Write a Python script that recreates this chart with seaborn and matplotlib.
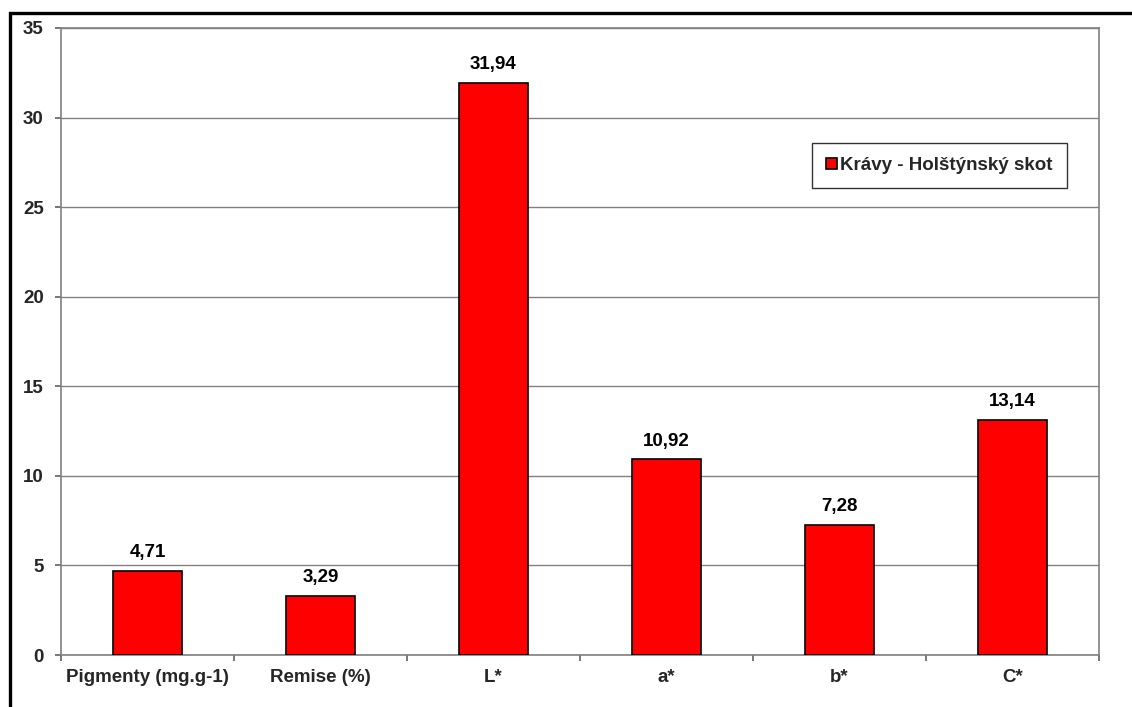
import matplotlib
matplotlib.use("Agg")
import matplotlib.pyplot as plt
import matplotlib.patches as mpatches
from matplotlib.ticker import FixedLocator
import seaborn as sns
import pandas as pd

categories = ["Pigmenty (mg.g-1)", "Remise (%)", "L*", "a*", "b*", "C*"]
values = [4.71, 3.29, 31.94, 10.92, 7.28, 13.14]
value_labels = ["4,71", "3,29", "31,94", "10,92", "7,28", "13,14"]
series_name = "Krávy - Holštýnský skot"
y_ticks = [0, 5, 10, 15, 20, 25, 30, 35]

sns.set_theme(style="white")
plt.rcParams["font.family"] = ["Liberation Sans", "DejaVu Sans"]
plt.rcParams["xtick.bottom"] = True
plt.rcParams["ytick.left"] = True

FS = 13.5

df = pd.DataFrame({"kategorie": categories, "hodnota": values, "serie": series_name})

fig = plt.figure(figsize=(11.32, 7.07), dpi=100)
ax = fig.add_axes([61 / 1132, 1 - 655 / 707, (1099 - 61) / 1132, (655 - 28) / 707])

sns.barplot(data=df, x="kategorie", y="hodnota", hue="serie",
            palette={series_name: "#ff0000"}, saturation=1, edgecolor="black",
            linewidth=1.2, width=0.4, ax=ax, zorder=3)

ax.set_xlim(-0.5, len(categories) - 0.5)
ax.set_ylim(0, 35)
ax.set_yticks(y_ticks)
ax.set_yticklabels([str(t) for t in y_ticks], fontsize=FS, fontweight="bold")
ax.set_xticks(range(len(categories)))
ax.set_xticklabels(categories, fontsize=FS, fontweight="bold")
ax.xaxis.set_minor_locator(FixedLocator([i - 0.5 for i in range(len(categories) + 1)]))
ax.tick_params(axis="x", which="major", bottom=True, length=0, pad=10)
ax.tick_params(axis="x", which="minor", bottom=True, length=4.5, width=1.2,
               color="#606060", direction="out")
ax.tick_params(axis="y", which="major", left=True, length=4.5, width=1.2,
               color="#606060", direction="out", pad=8)
ax.set_xlabel("")
ax.set_ylabel("")

ax.grid(axis="y", color="#808080", linewidth=1, zorder=0)
ax.set_axisbelow(True)
for s in ax.spines.values():
    s.set_color("#808080")
    s.set_linewidth(1.2)
    s.set_visible(True)

for patch, lab in zip(ax.patches, value_labels):
    ax.annotate(lab, (patch.get_x() + patch.get_width() / 2, patch.get_height()),
                xytext=(0, 7), textcoords="offset points", ha="center", va="bottom",
                fontsize=FS, fontweight="bold", color="black")

leg = ax.legend(loc="upper left", bbox_to_anchor=((812 - 61) / 1038, (655 - 143) / 627),
                borderaxespad=0, frameon=True, fancybox=False, shadow=False,
                handlelength=0.6, handleheight=0.6, handletextpad=0.15,
                borderpad=0.75, prop={"weight": "bold", "size": FS})
leg.get_frame().set_edgecolor("black")
leg.get_frame().set_linewidth(1.0)
for h in leg.legend_handles:
    h.set_edgecolor("black")

# outer chart border (open at the right and bottom edges)
fig.patches.append(mpatches.Rectangle((9.5 / 1132, -0.1), 1.2, 1 - 12.5 / 707 + 0.1,
                                      transform=fig.transFigure, fill=False,
                                      edgecolor="black", linewidth=2.4))

fig.savefig("out.png", dpi=100)
